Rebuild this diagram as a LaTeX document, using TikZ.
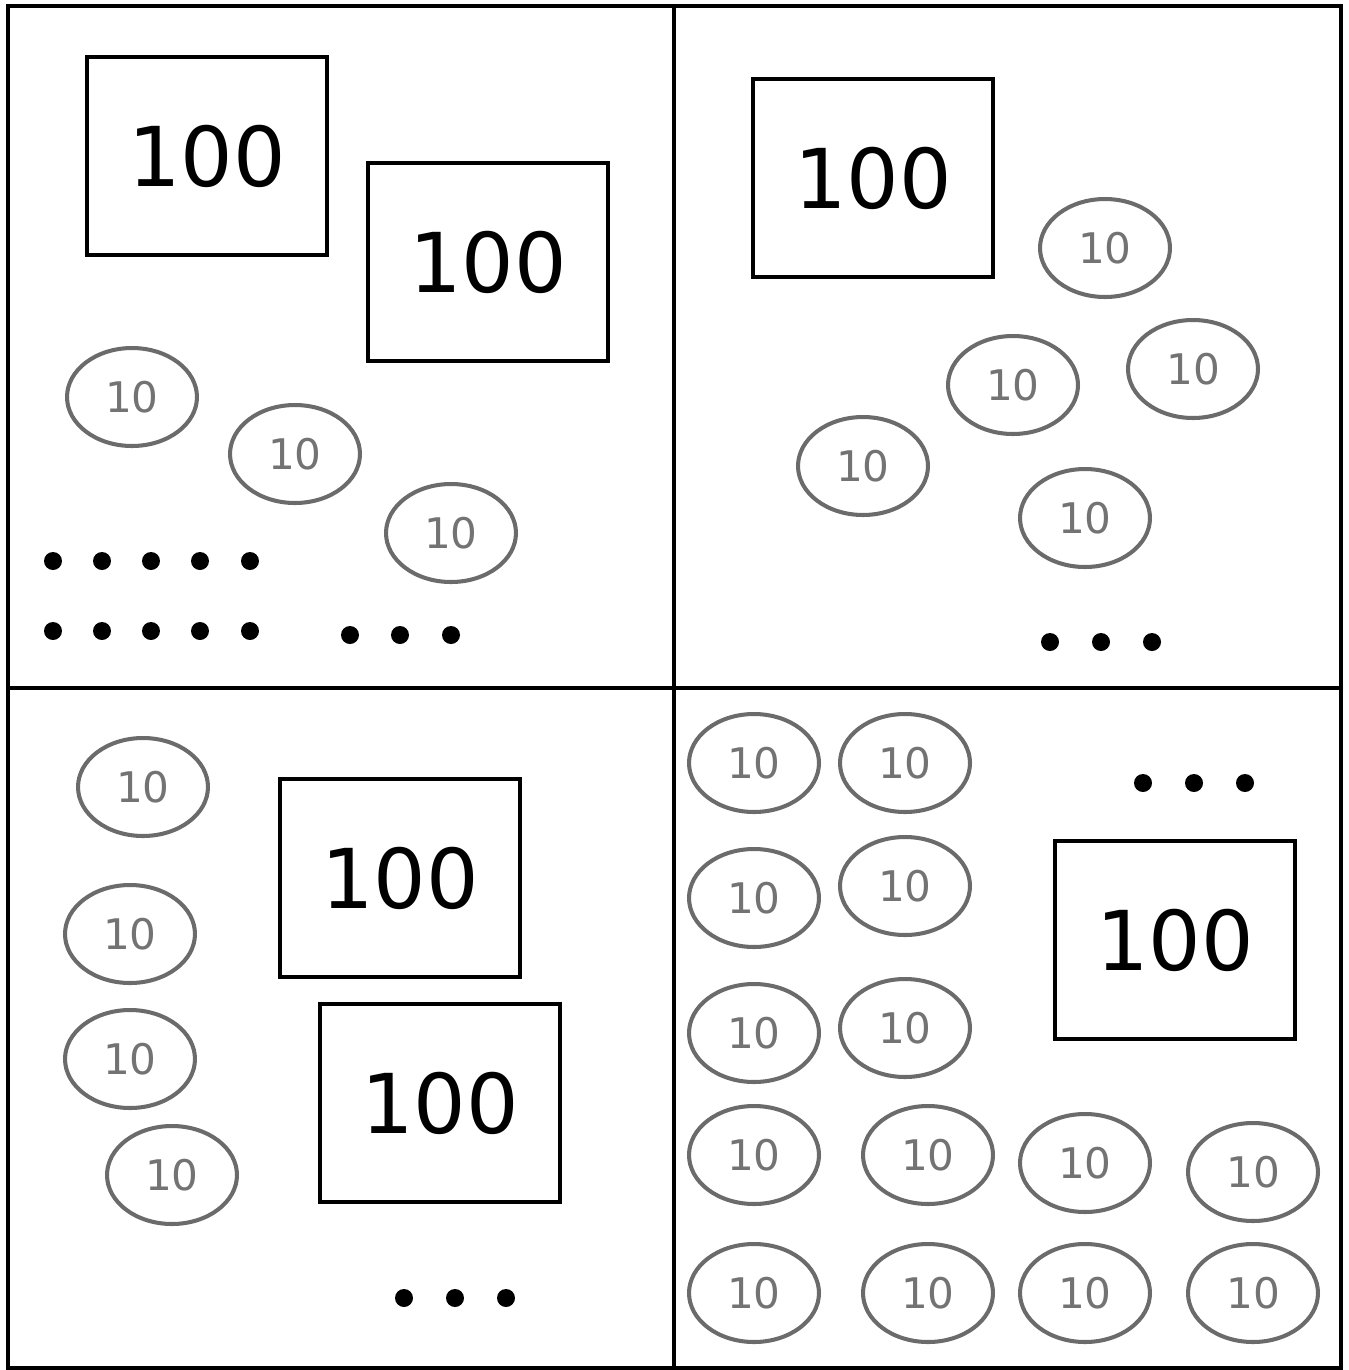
\documentclass[tikz,border=0pt]{standalone}
\usepackage{fontspec}
\setmainfont{DejaVu Sans}
\usetikzlibrary{shapes.geometric}

\begin{document}
\begin{tikzpicture}[
    x=0.02cm, y=-0.02cm,
    hundred/.style={rectangle, draw=black, line width=2.2pt, minimum width=4.8cm, minimum height=3.96cm, inner sep=0pt, font=\fontsize{47}{47}\selectfont},
    ten/.style={ellipse, draw=black!58, line width=2.3pt, minimum width=2.6cm, minimum height=1.96cm, inner sep=0pt, text=black!55, font=\fontsize{24}{24}\selectfont},
    dot/.style={circle, fill=black, inner sep=0pt, minimum size=0.36cm}
]

\useasboundingbox (0,0) rectangle (1349,1370);

\draw[line width=2.8pt] (8,6) rectangle (1341,1368);
\draw[line width=2.8pt] (674,6) -- (674,1368);
\draw[line width=2.8pt] (8,688) -- (1341,688);

\node[hundred] (a1) at (207,156) {100};
\node[hundred] (a2) at (488,262) {100};
\node[ten] (at1) at (132,397) {10};
\node[ten] (at2) at (295,454) {10};
\node[ten] (at3) at (451,533) {10};
\node[dot] (ad1) at (53,561) {};
\node[dot] (ad2) at (102,561) {};
\node[dot] (ad3) at (151,561) {};
\node[dot] (ad4) at (200,561) {};
\node[dot] (ad5) at (250,561) {};
\node[dot] (ad6) at (53,631) {};
\node[dot] (ad7) at (102,631) {};
\node[dot] (ad8) at (151,631) {};
\node[dot] (ad9) at (200,631) {};
\node[dot] (ad10) at (250,631) {};
\node[dot] (ad11) at (350,635) {};
\node[dot] (ad12) at (400,635) {};
\node[dot] (ad13) at (451,635) {};

\node[hundred] (b1) at (873,178) {100};
\node[ten] (bt1) at (1105,248) {10};
\node[ten] (bt2) at (1013,385) {10};
\node[ten] (bt3) at (1193,369) {10};
\node[ten] (bt4) at (863,466) {10};
\node[ten] (bt5) at (1085,518) {10};
\node[dot] (bd1) at (1050,642) {};
\node[dot] (bd2) at (1101,642) {};
\node[dot] (bd3) at (1152,642) {};

\node[ten] (ct1) at (143,787) {10};
\node[ten] (ct2) at (130,934) {10};
\node[ten] (ct3) at (130,1059) {10};
\node[ten] (ct4) at (172,1175) {10};
\node[hundred] (c1) at (400,878) {100};
\node[hundred] (c2) at (440,1103) {100};
\node[dot] (cd1) at (404,1298) {};
\node[dot] (cd2) at (455,1298) {};
\node[dot] (cd3) at (506,1298) {};

\node[ten] (dt1) at (754,763) {10};
\node[ten] (dt2) at (905,763) {10};
\node[ten] (dt3) at (754,898) {10};
\node[ten] (dt4) at (905,886) {10};
\node[ten] (dt5) at (754,1033) {10};
\node[ten] (dt6) at (905,1028) {10};
\node[ten] (dt7) at (754,1155) {10};
\node[ten] (dt8) at (928,1155) {10};
\node[ten] (dt9) at (1085,1163) {10};
\node[ten] (dt10) at (1253,1172) {10};
\node[ten] (dt11) at (754,1293) {10};
\node[ten] (dt12) at (928,1293) {10};
\node[ten] (dt13) at (1085,1293) {10};
\node[ten] (dt14) at (1253,1293) {10};
\node[hundred] (d1) at (1175,940) {100};
\node[dot] (dd1) at (1143,783) {};
\node[dot] (dd2) at (1194,783) {};
\node[dot] (dd3) at (1245,783) {};

\end{tikzpicture}
\end{document}
